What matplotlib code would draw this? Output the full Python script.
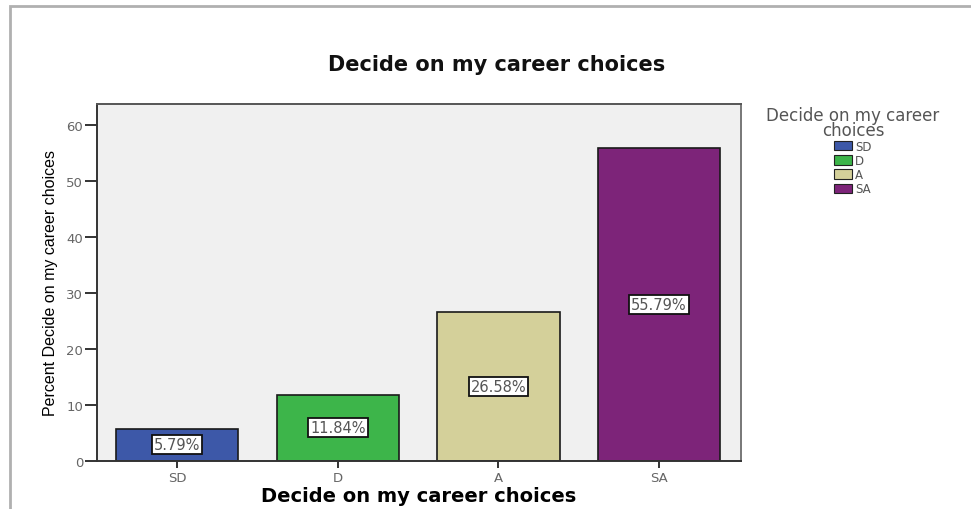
import matplotlib.pyplot as plt
from matplotlib.patches import Rectangle, Patch

categories = ['SD', 'D', 'A', 'SA']
percents = [5.79, 11.84, 26.58, 55.79]
bar_colors = ['#3d58a8', '#3db54a', '#d4d09a', '#7d2479']
y_ticks = [0, 10, 20, 30, 40, 50, 60]

fig = plt.figure(figsize=(9.71, 5.10), dpi=100)
W, H = 971.0, 510.0

# grey outer frame
fig.patches.append(Rectangle((10 / W, -0.01), 1.0, 503 / H + 0.01,
                             transform=fig.transFigure, fill=False,
                             edgecolor='#b0b0b0', linewidth=2.0))

ax = fig.add_axes([97 / W, (H - 462) / H, (741 - 97) / W, (462 - 105) / H])
ax.set_facecolor('#f0f0f0')

x = range(len(categories))
bars = ax.bar(x, percents, width=0.76, color=bar_colors, edgecolor='#1a1a1a', linewidth=1.2)

for i, p in enumerate(percents):
    ax.text(i, p / 2, '%.2f%%' % p, ha='center', va='center', fontsize=10.5, color='#555555',
            bbox=dict(boxstyle='square,pad=0.13', facecolor='white', edgecolor='#111111', linewidth=1.3))

ax.set_xlim(-0.5, 3.51)
ax.set_ylim(0, 63.7)
ax.set_xticks(list(x))
ax.set_xticklabels(categories)
ax.set_yticks(y_ticks)
for s in ax.spines.values():
    s.set_linewidth(1.4)
    s.set_color('#333333')
ax.spines['right'].set_color('#777777')
ax.spines['top'].set_color('#555555')
ax.tick_params(axis='both', direction='out', width=1.4, color='#333333',
               labelsize=9.5, labelcolor='#666666')
ax.tick_params(axis='x', length=5, pad=2)
ax.tick_params(axis='y', length=9, pad=1)

# chart title sits over the whole chart area, legend included
fig.text(497 / W, 1 - 65 / H, 'Decide on my career choices', ha='center', va='center',
         fontsize=15, fontweight='bold', color='#111111')
ax.set_xlabel('Decide on my career choices', fontsize=14, fontweight='bold', labelpad=2)
ax.set_ylabel('Percent Decide on my career choices', fontsize=11.5,
              family=['Liberation Sans Narrow', 'Liberation Sans', 'DejaVu Sans'], labelpad=6)

handles = [Patch(facecolor=c, edgecolor='#222222', linewidth=0.8) for c in bar_colors]
leg = fig.legend(handles, categories, title='Decide on my career\nchoices',
                 loc='upper center', bbox_to_anchor=(853 / W, 1 - 100 / H),
                 frameon=False, fontsize=8.5, title_fontsize=12,
                 handlelength=1.5, handleheight=0.85, handletextpad=0.25,
                 labelspacing=0.1, borderpad=0.1)
leg.get_title().set_color('#555555')
leg.get_title().set_multialignment('center')
leg.get_title().set_linespacing(0.75)
for t in leg.get_texts():
    t.set_color('#555555')

fig.savefig('out.png', dpi=100)
